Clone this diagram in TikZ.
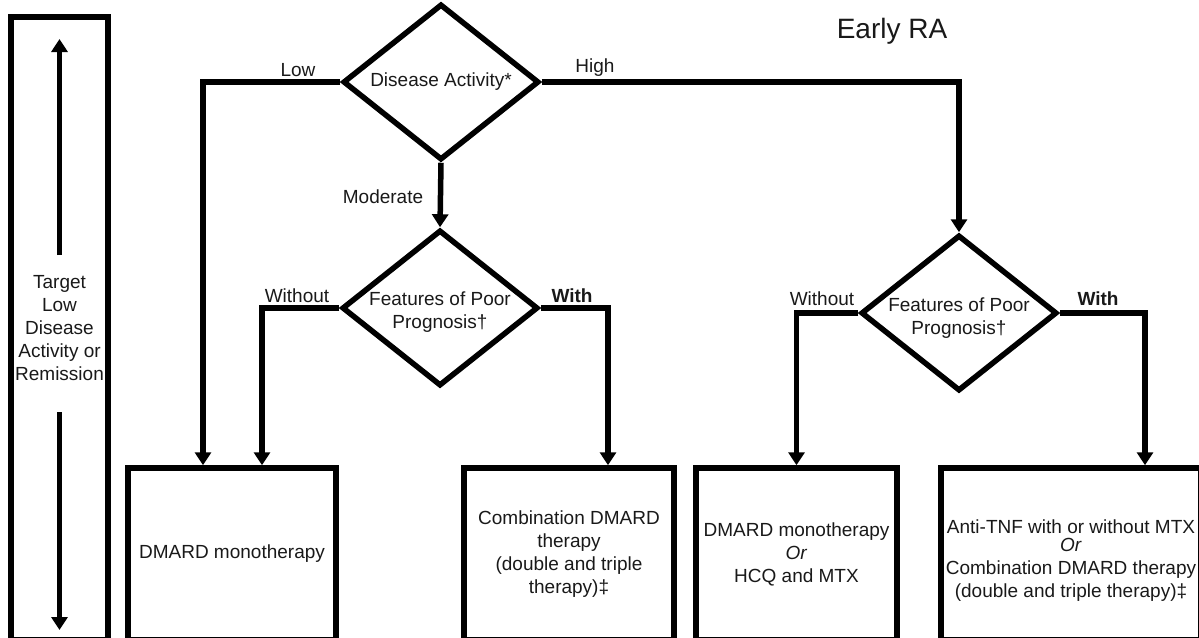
\documentclass[tikz,border=0pt]{standalone}
\usepackage{fontspec}
\setmainfont{Liberation Sans}
\usetikzlibrary{arrows.meta,shapes.geometric}
\begin{document}
\begin{tikzpicture}[x=1pt,y=-1pt,
  every node/.style={font=\fontsize{19}{23}\selectfont, inner sep=0pt, text=black!90},
  ln/.style={line width=5.5pt},
  arr/.style={ln, -{Triangle[length=13pt,width=16pt]}},
  box/.style={draw, line width=5.5pt, minimum height=172pt, align=center},
  dia/.style={draw, diamond, line width=5.5pt, aspect=1.256, minimum width=196pt, minimum height=156pt, align=center},
  lbl/.style={}]
\useasboundingbox (0,0) rectangle (1199,637);
\clip (0,0) rectangle (1199,637);
% left target column
\node[draw, line width=5.5pt, minimum width=97pt, minimum height=623pt] (col) at (59.5,328.5) {};
\node[align=center] (tgt) at (59.5,328) {Target\\Low\\Disease\\Activity or\\Remission};
\coordinate (tu) at (59.5,255);
\coordinate (tut) at (59.5,39);
\coordinate (td) at (59.5,412);
\coordinate (tdt) at (59.5,630);
\draw[arr] (tu) -- (tut);
\draw[arr] (td) -- (tdt);
% title
\node[font=\fontsize{28}{33}\selectfont] (title) at (892,31) {Early RA};
% diamonds
\node[dia] (d1) at (441,82) {Disease Activity*};
\node[dia] (d2) at (440,308) {};
\node[align=center] (d2t) at (440,312) {Features of Poor\\Prognosis†};
\node[dia] (d3) at (959,313) {};
\node[align=center] (d3t) at (959,318) {Features of Poor\\Prognosis†};
% boxes
\node[box, minimum width=208pt] (b1) at (232,554) {DMARD monotherapy};
\node[box, minimum width=210pt] (b2) at (569,554) {Combination DMARD\\therapy\\(double and triple\\therapy)‡};
\node[box, minimum width=201pt] (b3) at (796.5,554) {DMARD monotherapy\\\textit{Or}\\HCQ and MTX};
\node[box, minimum width=260pt] (b4) at (1071,554) {\rule{0pt}{26pt}Anti-TNF with or without MTX\\[-5pt]\textit{Or}\\Combination DMARD therapy\\(double and triple therapy)‡};
% connectors
\draw[arr] (d1.west) -| ([xshift=-29pt]b1.north);
\draw[arr] (d1.south) -- (d2.north);
\draw[arr] (d1.east) -| (d3.north);
\draw[arr] (d2.west) -| ([xshift=30pt]b1.north);
\draw[arr] (d2.east) -| ([xshift=39pt]b2.north);
\draw[arr] (d3.west) -| (b3.north);
\draw[arr] (d3.east) -| ([xshift=74pt]b4.north);
% labels
\node (lLow) at (298,70) {Low};
\node (lHigh) at (595,68) {High};
\node (lMod) at (383,197) {Moderate};
\node (lWo1) at (297,296) {Without};
\node[font=\fontsize{19}{23}\selectfont\bfseries] (lW1) at (572,296) {With};
\node (lWo2) at (822,299) {Without};
\node[font=\fontsize{19}{23}\selectfont\bfseries] (lW2) at (1098,299) {With};
\end{tikzpicture}
\end{document}
